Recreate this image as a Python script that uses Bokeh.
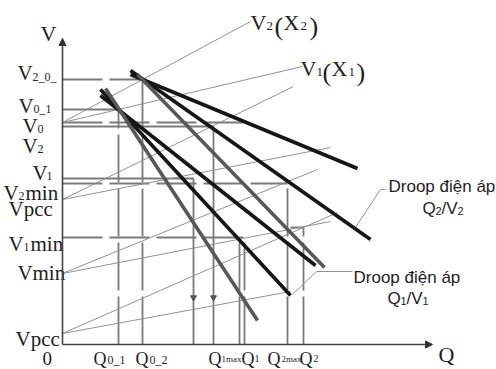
from bokeh.plotting import figure
from bokeh.models import Range1d, Arrow, NormalHead
from bokeh.core.properties import value
from bokeh.embed import file_html
from bokeh.resources import INLINE

# ---------------- data (Q along x, V along y; schematic units) ----------------
# Q positions of the vertical reference lines
Q0_1, Q0_2, QA, QB, Q1MAX, Q1, Q2MAX, Q2 = 56, 80, 131, 151, 177, 182, 225, 241
# V levels
V2_0, V0_1, V0, V2, V1, V2MIN, V1MIN = 265, 235, 222, 218, 166, 161, 107
VPCC_HI, VMIN, VPCC_LO, VQ2 = 145, 71, 11, 117
V_Q1MAX_TOP = 102
V0_END_Q = 181
ARROW_V = 47

# horizontal reference lines: (v, q_start, q_end, dashed)
h_v      = [V2_0, V0_1, V0,       V2, V1, V2MIN, V1MIN, VQ2]
h_qstart = [0,    0,    0,        0,  0,  0,     0,     228]
h_qend   = [82,   Q0_1, V0_END_Q, QB, QA, Q2MAX, Q1,    Q2]
h_dashed = [True, False, True,    False, False, True, True, False]

# vertical reference lines: (q, v_top, dashed)
v_q      = [Q0_1, Q0_2, QA,    QB,    Q1MAX,       Q1,    Q2MAX, Q2]
v_top    = [V0_1, V2_0, V1,    V2,    V_Q1MAX_TOP, V1MIN, V2MIN, VQ2]
v_dashed = [True, True, False, False, True,        True,  True,  True]

# thin load lines V(X): start on V axis, end points
thin_v0 = [V0, V0, VPCC_HI, VPCC_HI, VMIN, VMIN, VPCC_LO, VPCC_LO]
thin_q1 = [188, 240, 231, 268, 255, 268, 275, 228]
thin_v1 = [323, 278, 258, 197, 175, 123, 132, 53]

# thick droop lines: start (q, v) -> end (q, v), colour group
droop_q0 = [38, 38, 43, 68, 68, 75]
droop_v0 = [249, 255, 256, 270, 274, 270]
droop_q1 = [253, 228, 195, 295, 308, 262]
droop_v1 = [79, 49, 24, 176, 105, 77]
droop_col = ["#161616", "#161616", "#585858", "#161616", "#161616", "#585858"]

# leader lines for the droop annotations
lead2_q = [323, 318, 293]
lead2_v = [155, 155, 117]
lead1_q = [290, 254, 230]
lead1_v = [73, 73, 50]

# ---------------- figure ----------------
p = figure(width=496, height=369, x_range=Range1d(-62, 434), y_range=Range1d(-25, 344),
           output_backend="svg", toolbar_location=None, min_border=0,
           x_axis_type=None, y_axis_type=None)
p.grid.visible = False
p.outline_line_color = None
p.background_fill_color = "white"

REF = "#7a7a7a"
THIN = "#929292"

# horizontal reference lines
for v, qs, qe, d in zip(h_v, h_qstart, h_qend, h_dashed):
    p.line([qs, qe], [v, v], line_color=REF, line_width=1.8,
           line_dash="40 7" if d else "solid")

# vertical reference lines
for q, vt, d in zip(v_q, v_top, v_dashed):
    p.line([q, q], [0, vt], line_color=REF, line_width=1.8,
           line_dash="48 6" if d else "solid")

# small down arrows on the two solid verticals
p.scatter([QA, QB], [ARROW_V, ARROW_V], marker="inverted_triangle", size=6,
          fill_color="#555555", line_color="#555555")

# thin load lines
p.multi_line([[0, q] for q in thin_q1], [[a, b] for a, b in zip(thin_v0, thin_v1)],
             line_color=THIN, line_width=1)

# leaders
p.line(lead2_q, lead2_v, line_color=THIN, line_width=1)
p.line(lead1_q, lead1_v, line_color=THIN, line_width=1)

# thick droop lines
p.multi_line([[a, b] for a, b in zip(droop_q0, droop_q1)],
             [[a, b] for a, b in zip(droop_v0, droop_v1)],
             line_color=droop_col, line_width=3.6)

# axes with arrows
p.add_layout(Arrow(end=NormalHead(size=7, fill_color="#333333", line_color="#333333"),
                   x_start=0, y_start=0, x_end=0, y_end=306,
                   line_color="#444444", line_width=1.6))
p.add_layout(Arrow(end=NormalHead(size=7, fill_color="#333333", line_color="#333333"),
                   x_start=0, y_start=0, x_end=370, y_end=0,
                   line_color="#444444", line_width=1.6))

# ---------------- text helpers ----------------
SERIF = "Liberation Serif"
SANS = "Liberation Sans"


def t(px, py, s, size, font=SERIF, color="#1e1e1e"):
    """place text with its left edge at page-pixel px and baseline at page-pixel py"""
    p.text(x=[px - 62], y=[344 - py], text=[s], text_font=value(font),
           text_font_size=f"{size}px", text_align="left",
           text_baseline="alphabetic", text_color=color)


M, S = 21, 12
# left labels
t(40, 33, "V", 22)
t(17, 72, "V", M); t(32, 76, "2_0_", S)
t(18, 105, "V", M); t(33, 108, "0_1", S)
t(22, 125, "V", M); t(37, 128, "0", S)
t(22, 145, "V", M); t(37, 148, "2", S)
t(32, 172, "V", M); t(46, 175, "1", S)
t(3, 192, "V", M); t(18, 195, "2", S); t(25, 192, "min", M)
t(8, 208, "Vpcc", M)
t(8, 243, "V", M); t(23, 246, "1", S); t(30, 243, "min", M)
t(17, 272, "V", M); t(32, 272, "min", M)
t(15, 338, "Vpcc", M)
t(42, 358, "0", 19)

# bottom labels
QS = 18
QB_Y = 358
t(93, QB_Y, "Q", QS); t(107, QB_Y + 1, "0_1", S)
t(135, QB_Y, "Q", QS); t(149, QB_Y + 1, "0_2", S)
t(208, QB_Y, "Q", QS); t(221, QB_Y, "1max", 9); t(241, QB_Y, "Q", QS); t(254, QB_Y, "1", 10)
t(267, QB_Y, "Q", QS); t(281, QB_Y, "2max", 9); t(299, QB_Y, "Q", QS); t(313, QB_Y, "2", 10)
t(438, 354, "Q", 22)

# top-right V(X) labels
t(250, 22, "V", 22); t(266, 25, "2", 13); t(274, 26, "(", 26); t(283, 22, "X", 22)
t(300, 25, "2", 13); t(309, 26, ")", 26)
t(300, 68, "V", 22); t(316, 71, "1", 13); t(322, 72, "(", 26); t(331, 68, "X", 22)
t(348, 71, "1", 13); t(356, 72, ")", 26)

# droop annotations
DS = 17
t(388, 186, "Droop điện áp", DS, SANS)
t(422, 208, "Q", DS, SANS); t(435, 210, "2", 11, SANS); t(441, 208, "/V", DS, SANS); t(457, 210, "2", 11, SANS)
t(353, 277, "Droop điện áp", DS, SANS)
t(387, 298, "Q", DS, SANS); t(400, 300, "1", 11, SANS); t(406, 298, "/V", DS, SANS); t(422, 300, "1", 11, SANS)

open("out.html", "w").write(file_html(p, INLINE))
